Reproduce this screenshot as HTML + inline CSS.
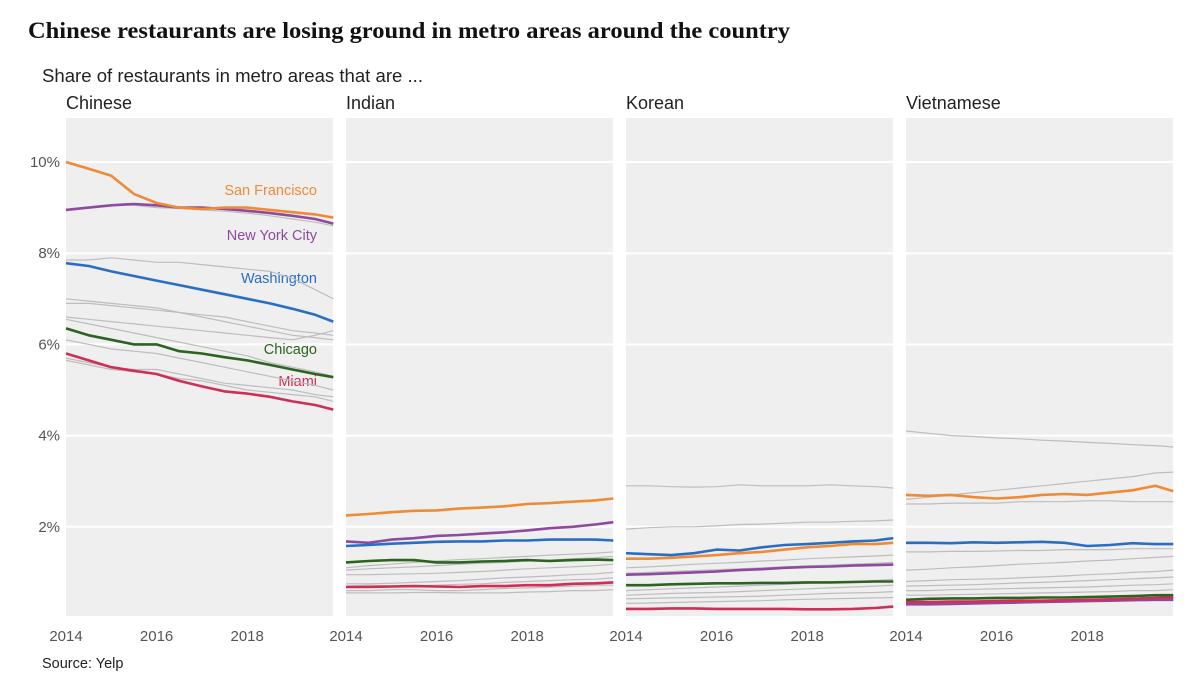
<!DOCTYPE html>
<html><head><meta charset="utf-8"><style>
body{margin:0;background:#fff;}
svg{display:block;font-family:"Liberation Sans",sans-serif;}
</style></head><body>
<svg id="c" width="1200" height="687">
<text x="28" y="38" font-family="Liberation Serif" font-weight="bold" font-size="23" textLength="762" lengthAdjust="spacingAndGlyphs" fill="#111">Chinese restaurants are losing ground in metro areas around the country</text>
<text x="42" y="82" font-size="18" textLength="381" lengthAdjust="spacingAndGlyphs" fill="#222">Share of restaurants in metro areas that are ...</text>
<text x="42" y="668" font-size="14.5" fill="#222">Source: Yelp</text>
</svg>
<script>
const years=[2014,2014.5,2015,2015.5,2016,2016.5,2017,2017.5,2018,2018.5,2019,2019.5,2019.9];
const panelNames=["Chinese","Indian","Korean","Vietnamese"];
const yTicks=[2,4,6,8,10];
const xTicks=[2014,2016,2018];
const cities=["San Francisco","New York City","Washington","Chicago","Miami"];
const cityColors=["#ef8a35","#8d4a9f","#2a6ec4","#2c6320","#cf2f55"];
const chineseCity=[
[10.0,9.85,9.7,9.3,9.1,9.0,8.97,9.0,9.0,8.95,8.9,8.85,8.78],
[8.95,9.0,9.05,9.08,9.05,9.0,9.0,8.97,8.93,8.88,8.82,8.75,8.65],
[7.78,7.72,7.6,7.5,7.4,7.3,7.2,7.1,7.0,6.9,6.78,6.65,6.5],
[6.35,6.2,6.1,6.0,6.0,5.85,5.8,5.72,5.65,5.55,5.45,5.35,5.28],
[5.8,5.65,5.5,5.42,5.35,5.2,5.08,4.97,4.92,4.85,4.75,4.67,4.57]];
const chineseGrey=[
[8.95,9.0,9.05,9.05,9.0,8.98,8.95,8.92,8.88,8.82,8.75,8.68,8.6],
[7.85,7.85,7.9,7.85,7.8,7.8,7.75,7.7,7.65,7.6,7.45,7.2,7.0],
[7.0,6.95,6.9,6.85,6.8,6.7,6.6,6.5,6.4,6.3,6.2,6.15,6.1],
[6.9,6.9,6.85,6.8,6.75,6.7,6.65,6.6,6.5,6.4,6.3,6.25,6.2],
[6.6,6.55,6.5,6.45,6.4,6.35,6.3,6.25,6.2,6.15,6.1,6.2,6.3],
[6.55,6.45,6.35,6.25,6.15,6.05,5.95,5.85,5.75,5.6,5.5,5.4,5.3],
[6.1,6.0,5.9,5.85,5.8,5.7,5.6,5.5,5.4,5.3,5.2,5.1,5.0],
[5.7,5.6,5.5,5.45,5.45,5.35,5.25,5.15,5.1,5.05,5.0,4.9,4.85],
[5.65,5.55,5.45,5.4,5.35,5.25,5.2,5.1,5.0,4.95,4.9,4.85,4.75]];
const indianCity=[
[2.25,2.28,2.32,2.35,2.36,2.4,2.42,2.45,2.5,2.52,2.55,2.58,2.62],
[1.68,1.65,1.72,1.75,1.8,1.82,1.85,1.88,1.92,1.97,2.0,2.05,2.1],
[1.58,1.6,1.63,1.65,1.67,1.68,1.68,1.7,1.7,1.72,1.72,1.72,1.7],
[1.22,1.25,1.27,1.27,1.22,1.22,1.24,1.25,1.27,1.25,1.27,1.28,1.27],
[0.68,0.68,0.69,0.7,0.69,0.68,0.7,0.7,0.72,0.72,0.75,0.76,0.78]];
const indianGrey=[
[1.1,1.15,1.18,1.22,1.25,1.28,1.3,1.33,1.35,1.38,1.4,1.42,1.45],
[1.05,1.08,1.1,1.12,1.15,1.18,1.2,1.22,1.25,1.27,1.3,1.32,1.35],
[0.95,0.95,0.96,0.97,0.98,1.0,1.02,1.05,1.08,1.1,1.12,1.15,1.18],
[0.75,0.75,0.76,0.78,0.8,0.82,0.85,0.88,0.9,0.92,0.95,0.97,1.0],
[0.7,0.72,0.7,0.7,0.72,0.74,0.75,0.78,0.8,0.82,0.84,0.85,0.88],
[0.6,0.6,0.62,0.62,0.6,0.6,0.62,0.65,0.66,0.68,0.7,0.72,0.72],
[0.55,0.55,0.55,0.56,0.56,0.55,0.55,0.55,0.57,0.58,0.6,0.6,0.62]];
const koreanCity=[
[1.3,1.3,1.32,1.35,1.38,1.42,1.45,1.5,1.55,1.58,1.62,1.62,1.65],
[0.95,0.96,0.98,1.0,1.02,1.05,1.07,1.1,1.12,1.13,1.15,1.16,1.17],
[1.42,1.4,1.38,1.42,1.5,1.48,1.55,1.6,1.62,1.65,1.68,1.7,1.75],
[0.72,0.72,0.74,0.75,0.76,0.76,0.77,0.77,0.78,0.78,0.79,0.8,0.8],
[0.2,0.2,0.21,0.21,0.2,0.2,0.2,0.2,0.19,0.19,0.2,0.22,0.25]];
const koreanGrey=[
[2.9,2.9,2.88,2.87,2.88,2.92,2.9,2.9,2.9,2.92,2.9,2.88,2.85],
[1.95,1.98,2.0,2.0,2.02,2.05,2.06,2.08,2.1,2.1,2.12,2.13,2.15],
[1.1,1.12,1.15,1.18,1.2,1.22,1.25,1.27,1.3,1.32,1.34,1.36,1.38],
[0.98,1.0,1.02,1.04,1.06,1.08,1.1,1.12,1.14,1.16,1.18,1.2,1.22],
[0.6,0.62,0.64,0.66,0.68,0.7,0.72,0.74,0.76,0.78,0.8,0.82,0.85],
[0.5,0.52,0.54,0.55,0.56,0.58,0.6,0.62,0.64,0.66,0.68,0.7,0.72],
[0.42,0.43,0.44,0.45,0.46,0.47,0.48,0.5,0.52,0.54,0.55,0.56,0.58],
[0.32,0.33,0.34,0.35,0.36,0.37,0.38,0.4,0.41,0.42,0.43,0.44,0.45]];
const vietCity=[
[2.7,2.68,2.7,2.65,2.62,2.65,2.7,2.72,2.7,2.75,2.8,2.9,2.78],
[0.3,0.3,0.31,0.32,0.33,0.34,0.35,0.36,0.37,0.38,0.39,0.4,0.4],
[1.65,1.65,1.64,1.66,1.65,1.66,1.67,1.65,1.58,1.6,1.64,1.62,1.62],
[0.4,0.42,0.43,0.43,0.44,0.44,0.45,0.45,0.46,0.47,0.48,0.5,0.5],
[0.35,0.35,0.36,0.36,0.37,0.38,0.38,0.39,0.4,0.41,0.42,0.44,0.45]];
const vietGrey=[
[4.1,4.05,4.0,3.98,3.95,3.93,3.9,3.88,3.85,3.83,3.8,3.78,3.75],
[2.6,2.65,2.7,2.75,2.8,2.85,2.9,2.95,3.0,3.05,3.1,3.18,3.2],
[2.5,2.5,2.52,2.52,2.52,2.55,2.55,2.55,2.57,2.57,2.55,2.55,2.55],
[1.45,1.45,1.46,1.46,1.47,1.48,1.48,1.5,1.5,1.5,1.52,1.52,1.52],
[1.05,1.07,1.1,1.12,1.15,1.18,1.2,1.22,1.25,1.27,1.3,1.33,1.35],
[0.8,0.82,0.84,0.85,0.86,0.88,0.9,0.92,0.95,0.97,1.0,1.02,1.05],
[0.7,0.71,0.72,0.73,0.75,0.77,0.78,0.8,0.82,0.84,0.86,0.88,0.9],
[0.6,0.6,0.62,0.63,0.64,0.65,0.66,0.67,0.68,0.7,0.72,0.73,0.75],
[0.5,0.5,0.51,0.52,0.53,0.54,0.55,0.56,0.57,0.58,0.6,0.6,0.62]];
const panelCity=[chineseCity,indianCity,koreanCity,vietCity];
const panelGrey=[chineseGrey,indianGrey,koreanGrey,vietGrey];
const labelY=[195,240,283,354,386];

const NS="http://www.w3.org/2000/svg";
const svgEl=document.getElementById("c");
const panelX=[66,346,626,906], panelW=267, plotTop=118, plotBottom=616;
const yScale=v=>618-v*45.6;
const xScale=(px,yr)=>px+(yr-2014)*45.3;
function mk(tag,attrs,parent){const e=document.createElementNS(NS,tag);for(const k in attrs)e.setAttribute(k,attrs[k]);(parent||svgEl).appendChild(e);return e;}
function drawLine(px,vals,color,w,name){
  const d=vals.map((v,i)=>(i?"L":"M")+xScale(px,years[i]).toFixed(1)+","+yScale(v).toFixed(1)).join("");
  const p=mk("path",{d:d,fill:"none",stroke:color,"stroke-width":w,"stroke-linejoin":"round"});
  
  
}
panelNames.forEach((nm,pi)=>{
  const px=panelX[pi];
  const g=mk("g",{});
  
  
  const bg=mk("rect",{x:px,y:plotTop,width:panelW,height:plotBottom-plotTop,fill:"#efefef"},g);
  
  
  const t=mk("text",{x:px,y:109,"font-size":18,fill:"#222"},g);t.textContent=nm;
  
  
  yTicks.forEach(v=>{
    const gl=mk("line",{x1:px,x2:px+panelW,y1:yScale(v),y2:yScale(v),stroke:"#fff","stroke-width":2},g);
    
    
    if(pi===0){const tl=mk("text",{x:60,y:yScale(v)+5,"text-anchor":"end","font-size":15,fill:"#555"},g);tl.textContent=v+"%";
      
      }
  });
  xTicks.forEach(yr=>{
    const tl=mk("text",{x:xScale(px,yr),y:641,"text-anchor":"middle","font-size":15,fill:"#555"},g);tl.textContent=yr;
    
    
  });
  panelGrey[pi].forEach(s=>drawLine(px,s,"#bdbdbd",1.2,"metro-line-grey"));
  [1,0,2,3,4].forEach(ci=>drawLine(px,panelCity[pi][ci],cityColors[ci],2.6,"line-"+cities[ci].toLowerCase().replace(/ /g,'-')));
  if(pi===0){cities.forEach((c,ci)=>{
    const l=mk("text",{x:317,y:labelY[ci],"text-anchor":"end","font-size":14.5,fill:cityColors[ci]},g);l.textContent=c;
    
    
  });}
});
</script>
</body></html>
